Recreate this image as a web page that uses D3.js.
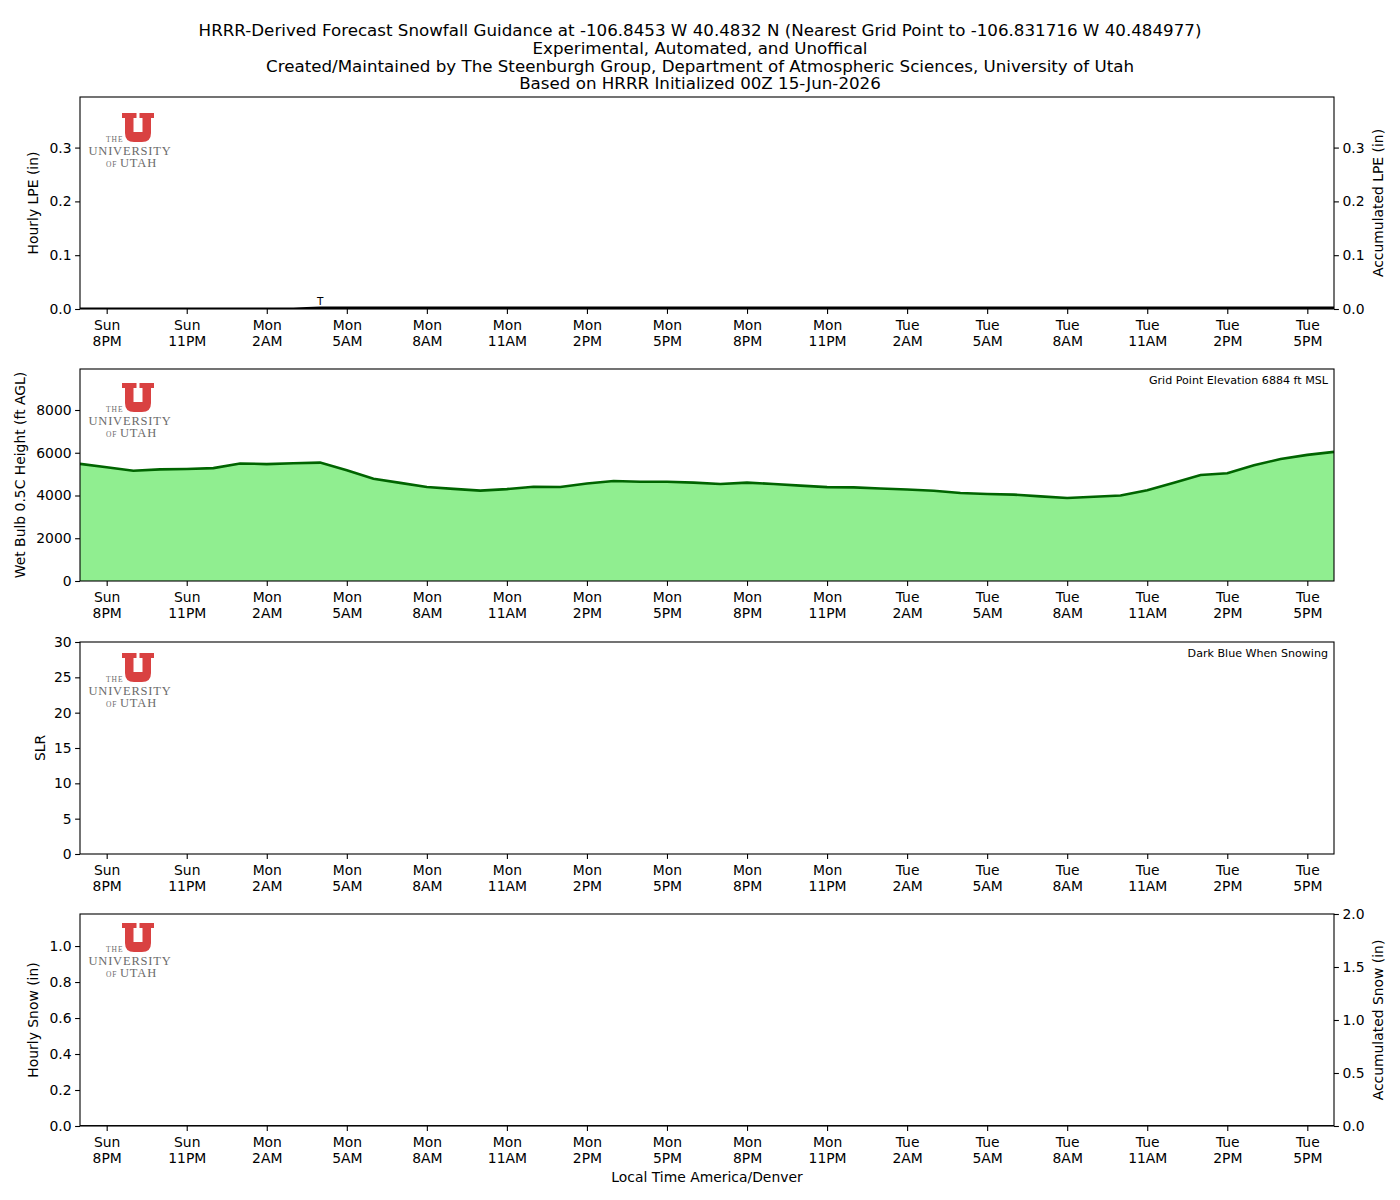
<!DOCTYPE html>
<html>
<head>
<meta charset="utf-8">
<script src="https://cdn.jsdelivr.net/npm/d3@7"></script>
<style>
  body { margin: 0; background: #fff; }
  text { font-family: "DejaVu Sans", sans-serif; }
  text.serif { font-family: "Liberation Serif", "DejaVu Serif", serif; }
</style>
</head>
<body>
<div id="chart"></div>
<script>
// forecast hours 1..48 after HRRR 00Z 15-Jun-2026 (local time starts Sun 7PM)
const startLocal = Date.UTC(2026, 5, 14, 19)
const hours = d3.range(48)

const titleLines = [
  "HRRR-Derived Forecast Snowfall Guidance at -106.8453 W 40.4832 N (Nearest Grid Point to -106.831716 W 40.484977)",
  "Experimental, Automated, and Unoffical",
  "Created/Maintained by The Steenburgh Group, Department of Atmospheric Sciences, University of Utah",
  "Based on HRRR Initialized 00Z 15-Jun-2026"
]

// hourly liquid precip (in), mostly zero, trace at Mon 4AM
const hourlyLPE = hours.map(h => h === 9 ? 0.002 : 0)
const accumLPE = [0,0,0,0,0,0,0,0,0,0.002,0.002,0.002,0.002,0.002,0.002,0.002,
  0.002,0.002,0.002,0.002,0.002,0.002,0.002,0.002,0.002,0.002,0.002,0.002,0.002,0.002,
  0.002,0.002,0.002,0.002,0.002,0.002,0.002,0.002,0.002,0.002,0.002,0.002,0.002,0.002,
  0.002,0.002,0.002,0.002]

// wet bulb 0.5C height (ft AGL)
const wetBulb = [5480,5320,5160,5220,5240,5280,5500,5470,5510,5540,5180,4780,
  4590,4400,4310,4230,4300,4410,4400,4560,4680,4640,4640,4600,
  4540,4600,4540,4460,4390,4380,4330,4280,4220,4120,4070,4040,
  3960,3880,3940,4000,4250,4600,4960,5040,5410,5710,5900,6040]

// SLR (no snow, nothing drawn)
const slr = hours.map(() => null)

// snowfall (in)
const hourlySnow = hours.map(() => 0)
const accumSnow = hours.map(() => 0)

const tickHours = d3.range(1, 48, 3)

const W = 1400, H = 1200
const left = 80, right = 1334
const panelTops = [97, 369, 642, 914]
const panelH = 212
const logoTops = [113, 383, 653, 923]

const svg = d3.select("#chart").append("svg")
  .attr("width", W).attr("height", H)

svg.append("g").selectAll("text")
  .data(titleLines)
  .enter().append("text")
    .attr("x", 700)
    .attr("y", (d, i) => 36 + i * 17.75)
    .attr("text-anchor", "middle")
    .attr("font-size", "16.7px")
    .text(d => d)

const x = d3.scaleLinear().domain([0, 47]).range([left, right])
const fmtDay = d3.utcFormat("%a")
const fmtHour = d => d3.utcFormat("%-I%p")(d)

function hourDate(h) { return new Date(startLocal + h * 3600e3) }

function drawLogo(g, top) {
  const lg = g.append("g").attr("transform", "translate(122," + top + ")")
  lg.append("path")
    .attr("d", "M0,0H14.5V5H11.5V19H20.5V5H17.5V0H32V5H29V20Q29,29 20,29H12Q3,29 3,20V5H0Z")
    .attr("fill", "#d94141")
  const t = lg.append("g").attr("fill", "#6b6b6b")
  t.append("text").attr("class", "serif").attr("x", -16).attr("y", 28.5).attr("font-size", "7.5px")
    .attr("letter-spacing", "1").text("THE")
  t.append("text").attr("class", "serif").attr("x", 8).attr("y", 41.5).attr("font-size", "12.5px")
    .attr("text-anchor", "middle").attr("letter-spacing", "0.8").text("UNIVERSITY")
  const o = t.append("text").attr("class", "serif").attr("x", -16).attr("y", 53.5)
  o.append("tspan").attr("font-size", "7.5px").attr("letter-spacing", "0.8").text("OF ")
  o.append("tspan").attr("font-size", "12.5px").attr("letter-spacing", "0.9").text("UTAH")
}

function drawPanel(i, cfg) {
  const top = panelTops[i], bottom = top + panelH
  const g = svg.append("g")
  const y = d3.scaleLinear().domain(cfg.domain).range([bottom, top])

  const clipId = "clip" + i
  svg.append("clipPath").attr("id", clipId)
    .append("rect").attr("x", left).attr("y", top)
    .attr("width", right - left).attr("height", panelH)

  const plot = g.append("g").attr("clip-path", "url(#" + clipId + ")")
  if (cfg.draw) cfg.draw(plot, y)

  drawLogo(g, logoTops[i])

  // frame
  g.append("rect").attr("x", left).attr("y", top)
    .attr("width", right - left).attr("height", panelH)
    .attr("fill", "none").attr("stroke", "#000").attr("stroke-width", 1.1)

  // x axis
  const xa = g.append("g").attr("transform", "translate(0," + bottom + ")")
    .call(d3.axisBottom(x).tickValues(tickHours).tickSize(4.9).tickFormat(""))
  xa.select(".domain").remove()
  xa.selectAll(".tick line").attr("stroke-width", 1.1)
  xa.selectAll(".tick").append("text")
    .attr("fill", "#000").attr("font-size", "13.9px").attr("text-anchor", "middle")
    .each(function (h) {
      const t = d3.select(this)
      t.append("tspan").attr("x", 0).attr("y", 21).text(fmtDay(hourDate(h)))
      t.append("tspan").attr("x", 0).attr("y", 37).text(fmtHour(hourDate(h)))
    })

  // left y axis
  const ya = g.append("g").attr("transform", "translate(" + left + ",0)")
    .call(d3.axisLeft(y).tickValues(cfg.ticks).tickSize(4.9).tickPadding(3.5)
      .tickFormat(cfg.fmt))
  ya.select(".domain").remove()
  ya.selectAll(".tick line").attr("stroke-width", 1.1)
  ya.selectAll(".tick text").attr("font-size", "13.9px").attr("fill", "#000")
    .attr("font-family", "DejaVu Sans")

  g.append("text")
    .attr("transform", "translate(" + cfg.labelX + "," + (top + panelH / 2) + ") rotate(-90)")
    .attr("text-anchor", "middle").attr("dy", "0.35em").attr("font-size", "13.9px")
    .text(cfg.label)

  if (cfg.right) {
    const yr = d3.scaleLinear().domain(cfg.right.domain).range([bottom, top])
    const ra = g.append("g").attr("transform", "translate(" + right + ",0)")
      .call(d3.axisRight(yr).tickValues(cfg.right.ticks).tickSize(4.9).tickPadding(3.5)
        .tickFormat(cfg.right.fmt))
    ra.select(".domain").remove()
    ra.selectAll(".tick line").attr("stroke-width", 1.1)
    ra.selectAll(".tick text").attr("font-size", "13.9px").attr("fill", "#000")
      .attr("font-family", "DejaVu Sans")
    g.append("text")
      .attr("transform", "translate(1378," + (top + panelH / 2) + ") rotate(-90)")
      .attr("text-anchor", "middle").attr("dy", "0.35em").attr("font-size", "13.9px")
      .text(cfg.right.label)
    if (cfg.right.draw) cfg.right.draw(plot, yr)
  }

  if (cfg.note) {
    g.append("text").attr("x", 1328).attr("y", top + 15)
      .attr("text-anchor", "end").attr("font-size", "11.1px").text(cfg.note)
  }
}

// panel 1: liquid precip
drawPanel(0, {
  domain: [0, 0.394], ticks: [0, 0.1, 0.2, 0.3], fmt: d3.format(".1f"),
  label: "Hourly LPE (in)", labelX: 33,
  draw: (p, y) => {
    const bw = (x(1) - x(0)) * 0.8
    p.selectAll(".bar").data(hours.filter(h => hourlyLPE[h] > 0))
      .enter().append("rect")
        .attr("x", h => x(h) - bw / 2).attr("width", bw)
        .attr("y", h => y(hourlyLPE[h])).attr("height", h => y(0) - y(hourlyLPE[h]))
        .attr("fill", "#2ca02c")
    p.selectAll(".trace").data(hours.filter(h => hourlyLPE[h] > 0 && hourlyLPE[h] < 0.01))
      .enter().append("text")
        .attr("x", h => x(h)).attr("y", h => y(hourlyLPE[h]) - 2.5)
        .attr("text-anchor", "middle").attr("font-size", "10.5px").text("T")
  },
  right: {
    domain: [0, 0.394], ticks: [0, 0.1, 0.2, 0.3], fmt: d3.format(".1f"),
    label: "Accumulated LPE (in)",
    draw: (p, y) => {
      p.append("path").datum(hours)
        .attr("d", d3.line().x(h => x(h)).y(h => y(accumLPE[h])))
        .attr("fill", "none").attr("stroke", "#000").attr("stroke-width", 3)
    }
  }
})

// panel 2: wet bulb height
drawPanel(1, {
  domain: [0, 9918], ticks: [0, 2000, 4000, 6000, 8000], fmt: d3.format("d"),
  label: "Wet Bulb 0.5C Height (ft AGL)", labelX: 20,
  note: "Grid Point Elevation 6884 ft MSL",
  draw: (p, y) => {
    p.append("path").datum(hours)
      .attr("d", d3.area().x(h => x(h)).y0(y(0)).y1(h => y(wetBulb[h])))
      .attr("fill", "#90ee90")
    p.append("path").datum(hours)
      .attr("d", d3.line().x(h => x(h)).y(h => y(wetBulb[h])))
      .attr("fill", "none").attr("stroke", "#006400").attr("stroke-width", 2.6)
  }
})

// panel 3: SLR
drawPanel(2, {
  domain: [0, 30], ticks: [0, 5, 10, 15, 20, 25, 30], fmt: d3.format("d"),
  label: "SLR", labelX: 40,
  note: "Dark Blue When Snowing",
  draw: (p, y) => {
    p.selectAll(".slr").data(hours.filter(h => slr[h] != null))
      .enter().append("circle")
        .attr("cx", h => x(h)).attr("cy", h => y(slr[h])).attr("r", 3)
        .attr("fill", "#00008b")
  }
})

// panel 4: snowfall
drawPanel(3, {
  domain: [0, 1.178], ticks: [0, 0.2, 0.4, 0.6, 0.8, 1.0], fmt: d3.format(".1f"),
  label: "Hourly Snow (in)", labelX: 33,
  draw: (p, y) => {
    p.append("path").datum(hours)
      .attr("d", d3.line().x(h => x(h)).y(h => y(hourlySnow[h])))
      .attr("fill", "none").attr("stroke", "#000").attr("stroke-width", 1.5)
  },
  right: {
    domain: [0, 2.0], ticks: [0, 0.5, 1.0, 1.5, 2.0], fmt: d3.format(".1f"),
    label: "Accumulated Snow (in)",
    draw: (p, y) => {
      p.append("path").datum(hours)
        .attr("d", d3.line().x(h => x(h)).y(h => y(accumSnow[h])))
        .attr("fill", "none").attr("stroke", "#000").attr("stroke-width", 1.5)
    }
  }
})

svg.append("text").attr("x", 707).attr("y", 1182)
  .attr("text-anchor", "middle").attr("font-size", "13.9px")
  .text("Local Time America/Denver")
</script>
</body>
</html>
